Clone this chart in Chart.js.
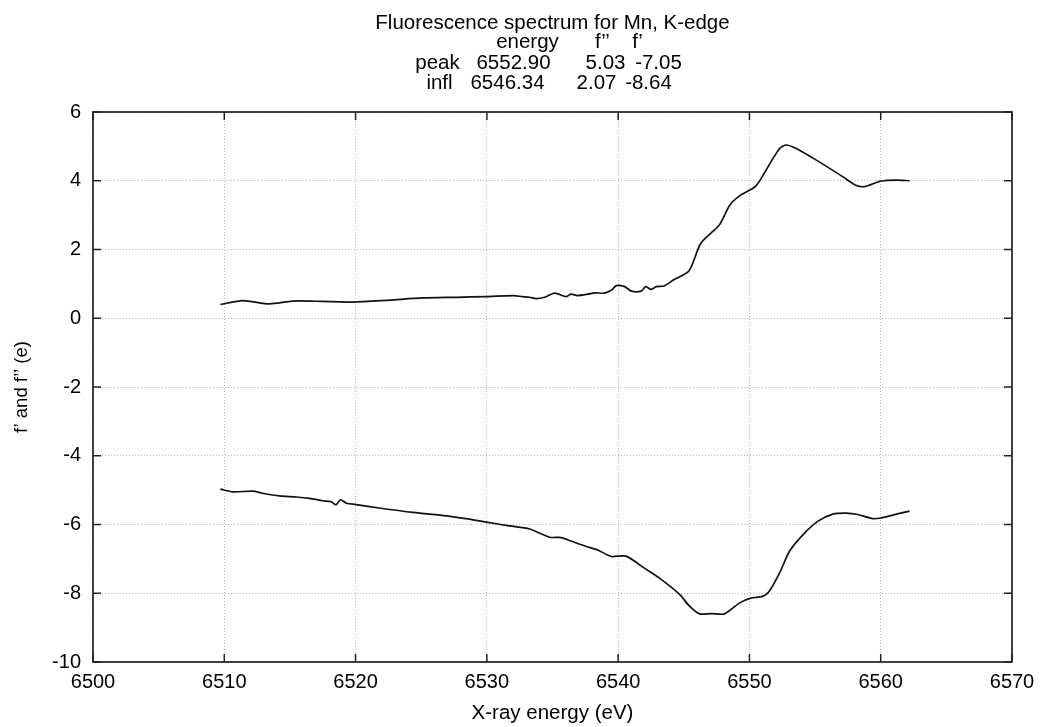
<!DOCTYPE html>
<html>
<head>
<meta charset="utf-8">
<script src="https://cdn.jsdelivr.net/npm/chart.js@4"></script>
<style>
    html, body { margin: 0; padding: 0; background: #fff; }
    #wrap { width: 1044px; height: 727px; }
</style>
</head>
<body>
<div id="wrap"><canvas id="chart" width="1044" height="727"></canvas></div>
<script>
// ========================================
// Data
// ========================================

// f'' (upper curve)
const fppEnergy = [6509.7, 6511.4, 6513.45, 6515.2, 6517.5, 6519.8, 6522.6, 6525.1, 6527.7, 6529.95,
    6532.0, 6532.7, 6533.25, 6533.76, 6534.4, 6535.15, 6536.05, 6536.4, 6536.9, 6537.7, 6538.2, 6538.96,
    6539.5, 6539.86, 6540.5, 6541.0, 6541.76, 6542.1, 6542.5, 6542.9, 6543.5, 6544.2, 6545.4, 6546.3,
    6547.7, 6548.5, 6549.25, 6550.5, 6551.5, 6552.3, 6552.8, 6553.56, 6555.1, 6557.1, 6558.1, 6558.77,
    6560.0, 6561.2, 6562.2];
const fppValues = [0.40, 0.51, 0.42, 0.50, 0.49, 0.47, 0.53, 0.59, 0.61, 0.63,
    0.66, 0.63, 0.61, 0.57, 0.61, 0.73, 0.63, 0.70, 0.66, 0.70, 0.74, 0.73,
    0.82, 0.95, 0.92, 0.79, 0.79, 0.92, 0.84, 0.92, 0.94, 1.11, 1.38, 2.18,
    2.71, 3.29, 3.56, 3.85, 4.46, 4.94, 5.04, 4.94, 4.60, 4.12, 3.87, 3.83,
    3.99, 4.02, 4.00];

// f' (lower curve)
const fpEnergy = [6509.7, 6510.65, 6512.2, 6512.9, 6514.2, 6515.5, 6516.5, 6517.5, 6518.15, 6518.5,
    6518.86, 6519.3, 6520.05, 6521.8, 6524.4, 6526.9, 6528.4, 6529.95, 6531.7, 6533.25, 6534.77,
    6535.67, 6536.4, 6537.57, 6538.45, 6539.47, 6540.6, 6542.0, 6543.15, 6544.7, 6545.4, 6546.2,
    6547.1, 6548.1, 6549.25, 6550.1, 6551.0, 6551.5, 6552.3, 6553.05, 6554.07, 6555.2, 6556.35,
    6557.37, 6558.25, 6559.4, 6560.0, 6561.2, 6562.2];
const fpValues = [-4.97, -5.05, -5.03, -5.09, -5.17, -5.20, -5.24, -5.31, -5.34, -5.43,
    -5.28, -5.38, -5.42, -5.52, -5.65, -5.75, -5.83, -5.93, -6.04, -6.13, -6.37,
    -6.38, -6.48, -6.64, -6.74, -6.93, -6.92, -7.27, -7.56, -8.04, -8.36, -8.60,
    -8.59, -8.60, -8.28, -8.14, -8.09, -7.95, -7.41, -6.78, -6.30, -5.91, -5.70,
    -5.67, -5.71, -5.83, -5.81, -5.70, -5.61];

// title block: heading + small table (columns)
const titleText = 'Fluorescence spectrum for Mn, K-edge';
const tableHeader = ['', 'energy', 'f\u2019\u2019', 'f\u2019'];
const tableRows = [
    ['peak', '6552.90', '5.03', '-7.05'],
    ['infl', '6546.34', '2.07', '-8.64']
];

const FONT = 'Liberation Sans, Arial, Helvetica, sans-serif';

function toPoints(xs, ys) {
    return xs.map((x, i) => ({ x: x, y: ys[i] }));
}

// heading and table above the plot
const titleBlock = {
    id: 'titleBlock',
    afterDraw(chart) {
        const ctx = chart.ctx;
        const a = chart.chartArea;
        const mid = (a.left + a.right) / 2;
        // column centres, relative to the plot centre
        const colsHead = [null, -25, 50, 85];
        const colsRow = [[-115, -39, 53, 106], [-113, -45, 44, 96]];
        ctx.save();
        ctx.fillStyle = '#000';
        ctx.textAlign = 'center';
        ctx.textBaseline = 'alphabetic';
        ctx.font = '20.5px ' + FONT;
        ctx.fillText(titleText, mid, 29);
        tableHeader.forEach((t, i) => { if (t) ctx.fillText(t, mid + colsHead[i], 48); });
        tableRows.forEach((row, r) => {
            row.forEach((t, i) => ctx.fillText(t, mid + colsRow[r][i], 69 + r * 20));
        });
        ctx.restore();
    }
};

// gnuplot-style inward ticks on all four sides
const innerTicks = {
    id: 'innerTicks',
    afterDraw(chart) {
        const { ctx, chartArea: a, scales } = chart;
        const len = 8;
        ctx.save();
        ctx.strokeStyle = '#222';
        ctx.lineWidth = 1.5;
        ctx.beginPath();
        scales.x.ticks.forEach(t => {
            const px = scales.x.getPixelForValue(t.value);
            ctx.moveTo(px, a.bottom); ctx.lineTo(px, a.bottom - len);
            ctx.moveTo(px, a.top); ctx.lineTo(px, a.top + len);
        });
        scales.y.ticks.forEach(t => {
            const py = scales.y.getPixelForValue(t.value);
            ctx.moveTo(a.left, py); ctx.lineTo(a.left + len, py);
            ctx.moveTo(a.right, py); ctx.lineTo(a.right - len, py);
        });
        ctx.stroke();
        ctx.lineWidth = 1.7;
        ctx.strokeRect(a.left, a.top, a.right - a.left, a.bottom - a.top);
        ctx.restore();
    }
};

const lineStyle = {
    borderColor: '#111',
    borderWidth: 1.7,
    pointRadius: 0,
    showLine: true,
    fill: false,
    tension: 0.25
};

new Chart(document.getElementById('chart'), {
    type: 'scatter',
    data: {
        datasets: [
            Object.assign({ label: "f''", data: toPoints(fppEnergy, fppValues) }, lineStyle),
            Object.assign({ label: "f'", data: toPoints(fpEnergy, fpValues) }, lineStyle)
        ]
    },
    options: {
        responsive: false,
        animation: false,
        layout: { padding: { left: 0, right: 32, top: 112, bottom: 0 } },
        plugins: {
            legend: { display: false },
            tooltip: { enabled: false },
            title: { display: false }
        },
        scales: {
            x: {
                type: 'linear',
                min: 6500,
                max: 6570,
                ticks: {
                    stepSize: 10,
                    color: '#000',
                    padding: 8,
                    maxRotation: 0,
                    font: { family: FONT, size: 20 },
                    callback: v => String(v)
                },
                grid: {
                    color: '#b4b4b4',
                    lineWidth: 1,
                    drawTicks: false
                },
                border: { display: false, dash: [1, 2] },
                title: {
                    display: true,
                    text: 'X-ray energy (eV)',
                    color: '#000',
                    font: { family: FONT, size: 20.5 },
                    padding: { top: 2, bottom: 1 }
                },
                afterFit(scale) { scale.height = 65; }
            },
            y: {
                min: -10,
                max: 6,
                ticks: {
                    stepSize: 2,
                    color: '#000',
                    padding: 12,
                    font: { family: FONT, size: 20 }
                },
                grid: {
                    color: '#b4b4b4',
                    lineWidth: 1,
                    drawTicks: false
                },
                border: { display: false, dash: [1, 2] },
                title: {
                    display: true,
                    text: 'f\u2019 and f\u2019\u2019 (e)',
                    color: '#000',
                    font: { family: FONT, size: 18.5 },
                    padding: { top: 11, bottom: 0 }
                },
                afterFit(scale) { scale.width = 93; }
            }
        }
    },
    plugins: [innerTicks, titleBlock]
});
</script>
</body>
</html>
